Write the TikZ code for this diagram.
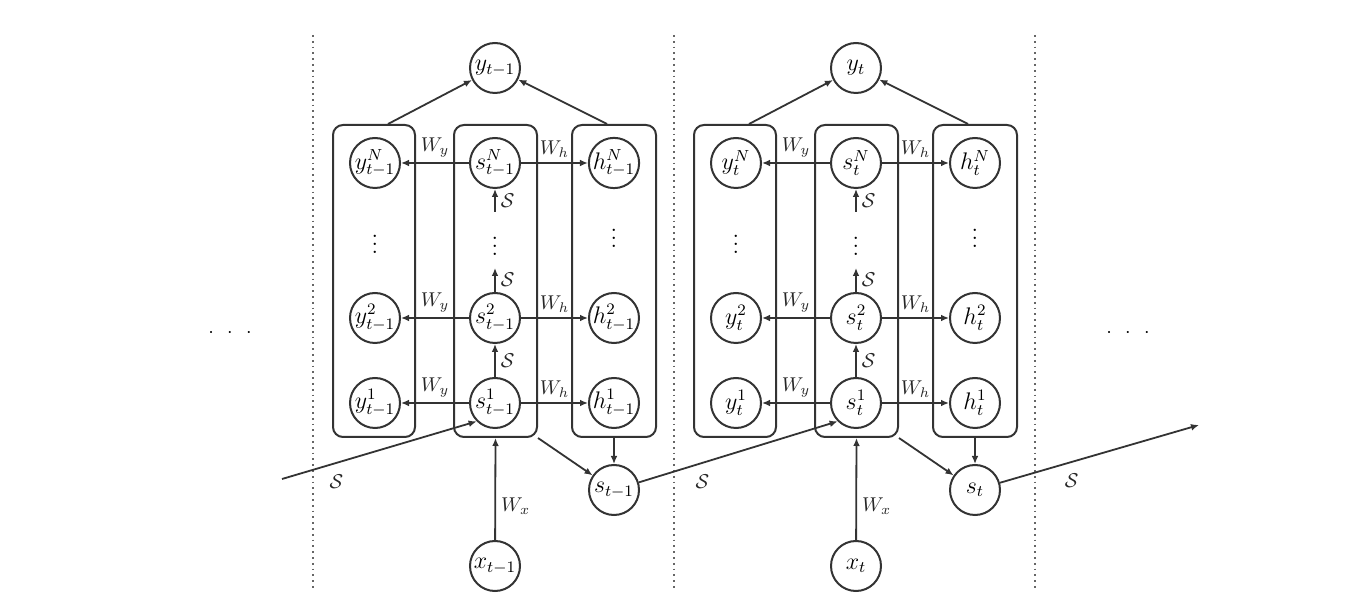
\documentclass[tikz,border=0pt]{standalone}
\usetikzlibrary{arrows.meta}
\begin{document}
\begin{tikzpicture}[x=0.5pt,y=-0.5pt,
  circ/.style={circle,draw=black!80,line width=1pt,minimum size=25pt,inner sep=0pt,font=\large},
  grp/.style={draw=black!80,rounded corners=5pt,line width=1pt,minimum height=156pt},
  arr/.style={draw=black!80,-{Latex[length=4pt,width=3.4pt]},line width=0.9pt},
  sep/.style={draw=black!60,dotted,line width=0.9pt},
  lbl/.style={inner sep=2.5pt,text=black!85}]
\useasboundingbox (0,0) rectangle (1362,614);
\foreach \x in {313,674,1035}{\draw[sep] (\x,35) -- (\x,588);}
\node (dl) at (230,333) {$\cdot\;\,\cdot\;\,\cdot$};
\node (dr) at (1128,333) {$\cdot\;\,\cdot\;\,\cdot$};
\foreach \dx/\p/\tl in {0/a/t-1,361/b/t}{
  \node[grp,minimum width=41pt] (Y\p) at (\dx+374,281) {};
  \node[grp,minimum width=41.5pt] (S\p) at (\dx+495.5,281) {};
  \node[grp,minimum width=42pt] (H\p) at (\dx+614,281) {};
  \node[circ] (out\p) at (\dx+495,68) {$y_{\tl}$};
  \node[circ] (yN\p) at (\dx+375,163) {$y^N_{\tl}$};
  \node[circ] (sN\p) at (\dx+495,163) {$s^N_{\tl}$};
  \node[circ] (hN\p) at (\dx+614,163) {$h^N_{\tl}$};
  \node[circ] (y2\p) at (\dx+375,318) {$y^2_{\tl}$};
  \node[circ] (s2\p) at (\dx+495,318) {$s^2_{\tl}$};
  \node[circ] (h2\p) at (\dx+614,318) {$h^2_{\tl}$};
  \node[circ] (y1\p) at (\dx+375,403) {$y^1_{\tl}$};
  \node[circ] (s1\p) at (\dx+495,403) {$s^1_{\tl}$};
  \node[circ] (h1\p) at (\dx+614,403) {$h^1_{\tl}$};
  \node[font=\large] (yd\p) at (\dx+375,238) {$\vdots$};
  \node[font=\large] (sd\p) at (\dx+495,240) {$\vdots$};
  \node[font=\large] (hd\p) at (\dx+614,232) {$\vdots$};
  \coordinate (sdt\p) at (\dx+495,212);
  \coordinate (sdb\p) at (\dx+495,268);
  \node[circ] (st\p) at (\dx+614,490) {$s_{\tl}$};
  \node[circ] (x\p) at (\dx+495,566) {$x_{\tl}$};
  \draw[arr] ([xshift=7pt]Y\p.north) -- (out\p);
  \draw[arr] ([xshift=-3.5pt]H\p.north) -- (out\p);
  \foreach \r in {N,2,1}{
    \draw[arr] (s\r\p) -- node[lbl,above]{$W_y$} (y\r\p);
    \draw[arr] (s\r\p) -- node[lbl,above]{$W_h$} (h\r\p);
  }
  \draw[arr] (s1\p) -- node[lbl,right]{$\mathcal{S}$} (s2\p);
  \draw[arr] (s2\p) -- node[lbl,right]{$\mathcal{S}$} (sdb\p);
  \draw[arr] (sdt\p) -- node[lbl,right]{$\mathcal{S}$} (sN\p);
  \draw[arr] (x\p) -- node[lbl,right,pos=0.33]{$W_x$} (S\p.south);
  \draw[arr] (H\p.south) -- (st\p);
  \draw[arr] (S\p.south east) -- (st\p);
}
\coordinate (inS) at (282,479);
\coordinate (outS) at (1199,425);
\draw[arr] (inS) -- node[lbl,pos=0.28,below=3pt]{$\mathcal{S}$} (s1a.south west);
\draw[arr] (sta) -- node[lbl,pos=0.32,below=3pt]{$\mathcal{S}$} (s1b.south west);
\draw[arr] (stb) -- node[lbl,pos=0.36,below=3pt]{$\mathcal{S}$} (outS);
\end{tikzpicture}
\end{document}
